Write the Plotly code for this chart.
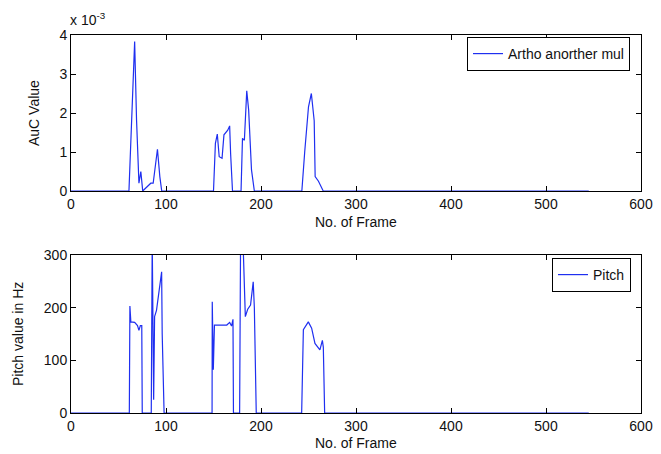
import plotly.graph_objects as go

# AuC values (x 1e-3) vs frame
auc_frames = [0, 61, 67, 69, 71.5, 73.5, 75.5, 84, 86.5, 91, 93.5, 95.5,
              150, 152, 154, 156, 159, 161, 165, 167, 168, 170,
              179, 180.5, 182.5, 185, 187, 188.5, 190, 193,
              243, 246, 250, 253, 256, 257, 260.5, 265.5, 545]
auc_values = [0, 0, 3.83, 1.82, 0.2, 0.5, 0, 0.2, 0.2, 1.07, 0.37, 0,
              0, 1.22, 1.46, 0.88, 0.84, 1.44, 1.56, 1.67, 0.97, 0,
              0, 1.35, 1.3, 2.57, 2.08, 1.39, 0.54, 0,
              0, 1.0, 2.16, 2.5, 1.8, 0.37, 0.25, 0, 0]

# Pitch values (Hz) vs frame
pitch_frames = [0, 61.4, 62, 63, 67, 70, 71.5, 73, 74.5, 75, 84.5, 85.5, 87, 88, 90, 95.4, 96, 98,
                148.5, 148.7, 149.8, 151, 164, 167, 169, 170.5, 171,
                177.5, 178.5, 181, 183.5, 186, 189, 191.8, 193, 195,
                242.8, 244.6, 249.8, 253.3, 256.8, 262, 264.6, 265.6, 267, 545]
pitch_values = [0, 0, 203, 173, 172, 166, 157, 166, 166, 0, 0, 330, 25, 183, 195, 268, 150, 0,
                0, 211, 82, 167, 167, 172, 165, 178, 0,
                0, 330, 330, 183, 197, 205, 249, 200, 0,
                0, 158, 173, 161, 132, 120, 138, 125, 0, 0]

auc_ticks = [0, 1, 2, 3, 4]
pitch_ticks = [0, 100, 200, 300]
frame_ticks = [0, 100, 200, 300, 400, 500, 600]

blue = "#1f2ff0"
FAM = "Liberation Sans, Arial, sans-serif"
font = dict(family=FAM, size=14, color="#111111")
title_font = dict(family=FAM, size=14, color="#111111")
legend_font = dict(family=FAM, size=14, color="#111111")

fig = go.Figure()
fig.add_trace(go.Scatter(x=auc_frames, y=auc_values, mode="lines",
                         line=dict(color=blue, width=1.2), name="Artho anorther mul",
                         legend="legend", xaxis="x", yaxis="y"))
fig.add_trace(go.Scatter(x=pitch_frames, y=pitch_values, mode="lines",
                         line=dict(color=blue, width=1.2), name="Pitch",
                         legend="legend2", xaxis="x2", yaxis="y2"))

W, H = 661, 454
xd = [71 / W, 641 / W]
axis_common = dict(showgrid=False, zeroline=False, ticks="inside", ticklen=5,
                   showline=True, linecolor="black", linewidth=1, mirror="ticks",
                   tickcolor="black", tickfont=font, automargin=False)

fig.update_layout(
    width=W, height=H, plot_bgcolor="white", paper_bgcolor="white",
    margin=dict(l=0, r=0, t=0, b=0), font=font,
    xaxis=dict(domain=xd, range=[0, 600], tickvals=frame_ticks, anchor="y", **axis_common),
    yaxis=dict(domain=[1 - 191 / H, 1 - 35 / H], range=[0, 4], tickvals=auc_ticks, anchor="x",
               **axis_common),
    xaxis2=dict(domain=xd, range=[0, 600], tickvals=frame_ticks, anchor="y2", **axis_common),
    yaxis2=dict(domain=[1 - 413 / H, 1 - 255 / H], range=[0, 300], tickvals=pitch_ticks, anchor="x2",
                **axis_common),
    legend=dict(x=630 / W, y=1 - 37 / H, xanchor="right", yanchor="top",
                bordercolor="black", borderwidth=1, bgcolor="white", font=legend_font,
                itemwidth=30, tracegroupgap=0),
    legend2=dict(x=631 / W, y=1 - 258 / H, xanchor="right", yanchor="top",
                 bordercolor="black", borderwidth=1, bgcolor="white", font=legend_font,
                 itemwidth=30, tracegroupgap=0),
    showlegend=True,
)

def note(text, x, y, angle=0, xanchor="center", yanchor="middle"):
    fig.add_annotation(text=text, xref="paper", yref="paper", x=x / W, y=1 - y / H,
                       xanchor=xanchor, yanchor=yanchor, textangle=angle,
                       showarrow=False, font=title_font)

note("x 10<sup>-3</sup>", 68, 30, xanchor="left", yanchor="bottom")
note("No. of Frame", 356, 222)
note("No. of Frame", 356, 443)
note("AuC Value", 34, 113, angle=-90)
note("Pitch value in Hz", 18, 334, angle=-90)

fig.write_html("out.html", config={"displayModeBar": False},
               post_script="document.body.style.margin='0';document.body.style.padding='0';document.body.style.overflow='hidden';")
